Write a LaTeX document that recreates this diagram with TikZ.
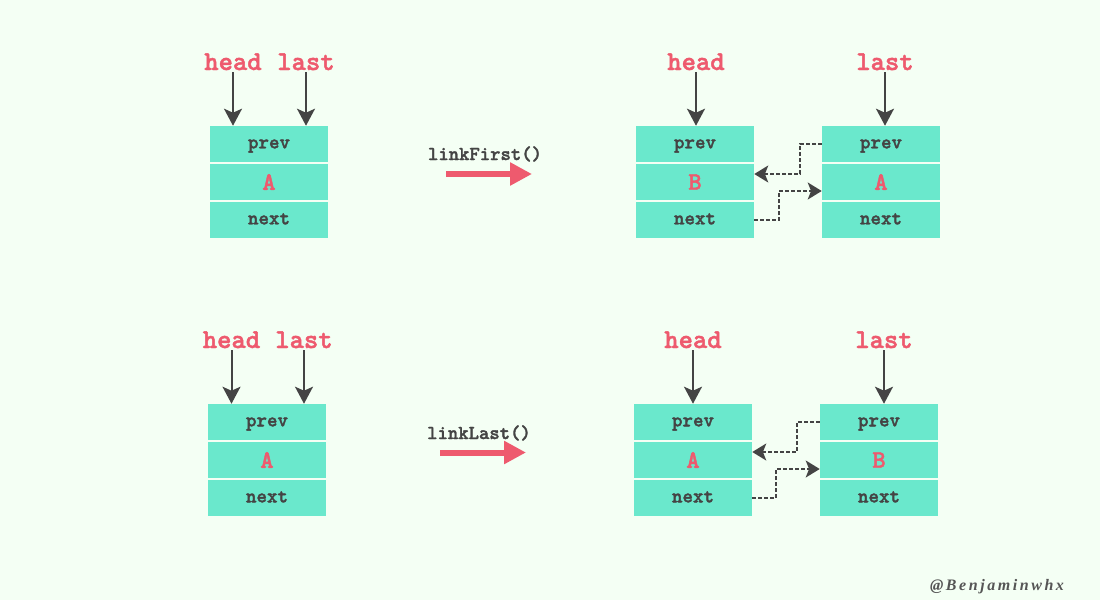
\documentclass[tikz,border=0pt]{standalone}
\usepackage{fontspec}
\newfontfamily\wmfont[LetterSpace=16]{Liberation Serif}
\newfontfamily\codefont[FakeBold=1.6]{lmmonolt10-bold.otf}
\usetikzlibrary{arrows.meta}
\definecolor{bgc}{HTML}{F4FFF4}
\definecolor{cellc}{HTML}{6AE8CC}
\definecolor{redc}{HTML}{EE5A6E}
\definecolor{darkc}{HTML}{444444}
\definecolor{wmc}{HTML}{555555}
\tikzset{
  cell/.style={fill=cellc, minimum width=88.5pt, minimum height=27pt, inner sep=0pt,
    font=\codefont\fontsize{15}{16}\selectfont, text=darkc},
  lowtxt/.style={text height=6.5pt, text depth=0pt},
  valcell/.style={cell, font=\codefont\fontsize{19}{20}\selectfont, text=redc},
  ptrlabel/.style={font=\codefont\fontsize{20.5}{22}\selectfont, text=redc, anchor=base, inner sep=0pt},
  ptr/.style={draw=darkc, line width=1.5pt, -{Stealth[length=12.75pt,width=13.5pt,inset=3pt]}},
  dptr/.style={draw=darkc, line width=1.35pt, dash pattern=on 3pt off 1.5pt,
    -{Stealth[length=10.5pt,width=12.75pt,inset=2.5pt]}},
  opname/.style={font=\codefont\fontsize{14.8}{16}\selectfont, text=darkc, anchor=base, inner sep=0pt},
  bigarrow/.style={draw=redc, line width=4.5pt, -{Triangle[length=16.5pt,width=16.5pt]}},
}
\begin{document}
\begin{tikzpicture}[x=0.75pt,y=-0.75pt]
\fill[bgc] (0,0) rectangle (1100,600);
\useasboundingbox (0,0) rectangle (1100,600);

% ---------- top-left ----------
\node[cell,lowtxt] (a1p) at (269,144) {prev};
\node[valcell] (a1v) at (269,182) {A};
\node[cell,lowtxt] (a1n) at (269,220) {next};
\node[ptrlabel] (a1h) at (233,70) {head};
\node[ptrlabel] (a1l) at (306,70) {last};
\draw[ptr] ([yshift=-1.5pt]a1h.base) -- (a1h.base |- a1p.north);
\draw[ptr] ([yshift=-1.5pt]a1l.base) -- (a1l.base |- a1p.north);

% ---------- linkFirst ----------
\node[opname] (op1) at (485,160) {linkFirst()};
\coordinate (f1s) at (446,174);
\coordinate (f1e) at (532,174);
\draw[bigarrow] (f1s) -- (f1e);

% ---------- top-right ----------
\node[cell,lowtxt] (b1p) at (695,144) {prev};
\node[valcell] (b1v) at (695,182) {B};
\node[cell,lowtxt] (b1n) at (695,220) {next};
\node[cell,lowtxt] (c1p) at (881,144) {prev};
\node[valcell] (c1v) at (881,182) {A};
\node[cell,lowtxt] (c1n) at (881,220) {next};
\node[ptrlabel] (b1h) at (696,70) {head};
\node[ptrlabel] (c1l) at (885,70) {last};
\draw[ptr] ([yshift=-1.5pt]b1h.base) -- (b1h.base |- b1p.north);
\draw[ptr] ([yshift=-1.5pt]c1l.base) -- (c1l.base |- c1p.north);
\draw[dptr] (c1p.west) -- ++(-22,0) |- ([yshift=6pt]b1v.east);
\draw[dptr] (b1n.east) -- ++(25,0) |- ([yshift=-6.75pt]c1v.west);

% ---------- bottom-left ----------
\node[cell,lowtxt] (a2p) at (267,422) {prev};
\node[valcell] (a2v) at (267,460) {A};
\node[cell,lowtxt] (a2n) at (267,498) {next};
\node[ptrlabel] (a2h) at (231.5,348) {head};
\node[ptrlabel] (a2l) at (304,348) {last};
\draw[ptr] ([yshift=-1.5pt]a2h.base) -- (a2h.base |- a2p.north);
\draw[ptr] ([yshift=-1.5pt]a2l.base) -- (a2l.base |- a2p.north);

% ---------- linkLast ----------
\node[opname] (op2) at (479,439) {linkLast()};
\coordinate (f2s) at (440,452.5);
\coordinate (f2e) at (526,452.5);
\draw[bigarrow] (f2s) -- (f2e);

% ---------- bottom-right ----------
\node[cell,lowtxt] (b2p) at (693,422) {prev};
\node[valcell] (b2v) at (693,460) {A};
\node[cell,lowtxt] (b2n) at (693,498) {next};
\node[cell,lowtxt] (c2p) at (879,422) {prev};
\node[valcell] (c2v) at (879,460) {B};
\node[cell,lowtxt] (c2n) at (879,498) {next};
\node[ptrlabel] (b2h) at (693,348) {head};
\node[ptrlabel] (c2l) at (884,348) {last};
\draw[ptr] ([yshift=-1.5pt]b2h.base) -- (b2h.base |- b2p.north);
\draw[ptr] ([yshift=-1.5pt]c2l.base) -- (c2l.base |- c2p.north);
\draw[dptr] (c2p.west) -- ++(-23,0) |- ([yshift=6pt]b2v.east);
\draw[dptr] (b2n.east) -- ++(24,0) |- ([yshift=-6.75pt]c2v.west);

% ---------- watermark ----------
\node[font=\wmfont\bfseries\itshape\fontsize{12}{14}\selectfont, text=wmc, inner sep=0pt] (wm) at (997,587) {@Benjaminwhx};
\end{tikzpicture}
\end{document}
